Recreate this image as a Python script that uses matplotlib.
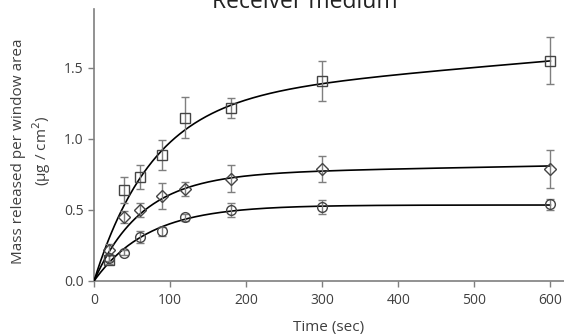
import numpy as np
import matplotlib
matplotlib.use("Agg")
import matplotlib.pyplot as plt

# Time points (sec)
time_s = [20, 40, 60, 90, 120, 180, 300, 600]

# Measured means and error bars (µg/cm²)
squares = [0.15, 0.64, 0.73, 0.89, 1.15, 1.22, 1.41, 1.55]
squares_err = [0.03, 0.09, 0.085, 0.105, 0.145, 0.07, 0.14, 0.165]
diamonds = [0.22, 0.45, 0.50, 0.60, 0.65, 0.72, 0.79, 0.79]
diamonds_err = [0.04, 0.04, 0.05, 0.09, 0.05, 0.095, 0.09, 0.135]
circles = [0.16, 0.20, 0.31, 0.35, 0.45, 0.50, 0.52, 0.54]
circles_err = [0.02, 0.02, 0.04, 0.03, 0.025, 0.05, 0.05, 0.04]

# Fitted curve parameters: A*(1-exp(-k t)) + m t
fit_squares = (1.28, 0.013, 0.00045)
fit_diamonds = (0.75, 0.016, 0.0001)
fit_circles = (0.535, 0.014, 0.0)

xticks = [0, 100, 200, 300, 400, 500, 600]
yticks = [0.0, 0.5, 1.0, 1.5]
ytick_labels = ["0.0", "0.5", "1.0", "1.5"]

plt.rcParams['font.family'] = ['Open Sans', 'DejaVu Sans']

fig = plt.figure(figsize=(5.64, 3.36), dpi=100)
ax = fig.add_axes([94/564, 1-281/336, 1-94/564, (281-9)/336])

tt = np.linspace(0, 600, 400)
grey = '#7f7f7f'
txt = '#404040'
for (vals, errs, fit, mk, ms) in [
        (squares, squares_err, fit_squares, 's', 7.5),
        (diamonds, diamonds_err, fit_diamonds, 'D', 6),
        (circles, circles_err, fit_circles, 'o', 7)]:
    A, k, m = fit
    ax.plot(tt, A*(1-np.exp(-k*tt)) + m*tt, color='black', lw=1.2, zorder=3)
    ax.errorbar(time_s, vals, yerr=errs, fmt=mk, ms=ms, mfc='none', mec='#444444',
                mew=1.0, ecolor=grey, elinewidth=1.0, capsize=3, capthick=1.0, zorder=4)

ax.set_xlim(0, 618)
ax.set_ylim(0, 1.915)
ax.set_xticks(xticks)
ax.set_yticks(yticks)
ax.set_yticklabels(ytick_labels)
for s in ['top', 'right']:
    ax.spines[s].set_visible(False)
for s in ['left', 'bottom']:
    ax.spines[s].set_color(grey)
    ax.spines[s].set_linewidth(1.2)
ax.tick_params(colors=grey, labelcolor=txt, labelsize=10, length=4, width=1)
ax.tick_params(axis='x', pad=5)

ax.set_xlabel("Time (sec)", fontsize=11, color=txt, labelpad=8)
fig.text(19/564, 1-151/336, "Mass released per window area", rotation=90,
         ha='center', va='center', fontsize=11, color=txt)
fig.text(42/564, 1-151/336, "(µg / cm$^2$)", rotation=90,
         ha='center', va='center', fontsize=11, color=txt)
fig.text(305/564, 1-7.5/336, "Receiver medium", ha='center', va='baseline',
         fontsize=16.5, color='#222222')

fig.savefig("out.png", dpi=100)
